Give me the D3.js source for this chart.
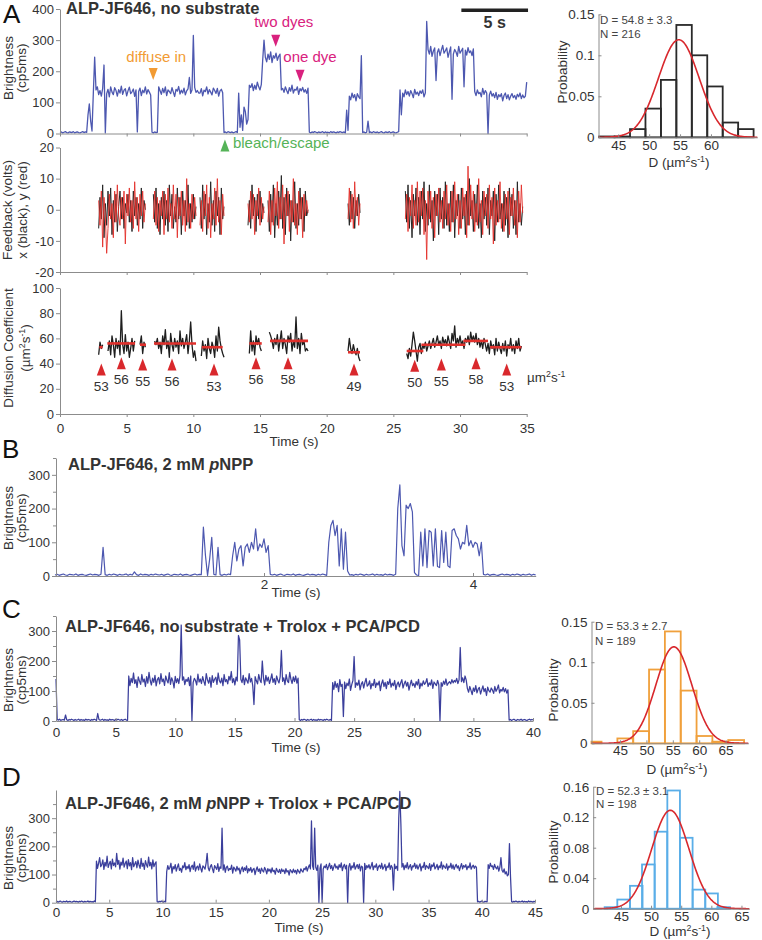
<!DOCTYPE html>
<html><head><meta charset="utf-8">
<script src="https://cdn.jsdelivr.net/npm/d3@7/dist/d3.min.js"></script>
<style>
html,body{margin:0;padding:0;background:#fff;}
svg text{font-family:"Liberation Sans",Arial,Helvetica,sans-serif;}
</style></head>
<body>
<svg id="fig" width="762" height="940"></svg>
<script>
// ================= DATA =================
// Panel A brightness (cp5ms), sampled every 0.1 s from t = 0
const aStep = 0.1;
const aBright = [
3,5,2,4,6,3,2,5,4,3,6,2,4,5,3,2,4,6,3,5,4,
60,95,40,8,130,245,140,150,125,138,120,145,220,2,
128,142,118,150,133,125,147,138,120,141,130,152,126,139,144,121,137,149,128,134,143,119,140,
5,135,146,122,139,131,150,127,141,133,124,
4,2,5,3,4,150,
138,126,145,131,150,122,140,135,128,147,
133,119,142,136,151,127,139,130,146,124,
137,143,180,129,140,315,148,132,138,130,
130,144,121,139,135,150,127,141,133,124,
146,138,129,145,120,137,142,131,
3,5,2,6,4,3,5,2,4,6,3,
130,20,60,10,85,70,30,45,155,
148,160,138,155,142,165,150,140,158,
235,300,
245,230,255,238,262,228,250,242,258,235,248,255,
140,
145,132,150,138,128,147,136,155,130,142,139,150,126,144,137,148,133,141,129,146,
4,2,5,3,6,4,2,5,3,4,6,2,5,3,4,2,6,3,5,4,2,5,3,6,4,3,5,2,
75,10,
120,108,130,115,125,105,128,118,112,
250,
3,5,2,4,40,3,5,2,6,4,3,5,2,4,6,3,2,5,4,3,6,2,4,5,3,2,4,6,
140,60,
130,118,140,125,135,120,138,128,115,142,126,133,122,137,129,140,118,131,
360,
270,255,280,248,265,275,170,260,272,250,268,283,258,266,275,245,262,278,110,255,
270,262,248,280,258,266,274,150,268,252,276,260,265,250,272,
135,122,140,128,132,118,145,126,138,130,0,124,136,120,128,115,132,110,125,118,
128,105,122,130,112,125,108,120,128,115,122,110,126,118,130,112,124,115,120,165
];
const aTicksY = [0,100,200,300,400];
const aTicksX = [0,5,10,15,20,25,30,35];

// Annotations on brightness trace
const annoText = ["diffuse in","two dyes","one dye","bleach/escape"];
const annoT    = [6.99, 16.18, 18.0, 12.37];
const annoTip  = [172, 279, 166, -19];
const annoColor= ["#f29b33","#d9217e","#d9217e","#55b358"];
const scaleBarStart = 30.1, scaleBarLen = 5;

// Feedback (volts): segments starting at fbStart, 0.1 s sampling
const fbStart = [2.9, 7.0, 10.5, 14.1, 15.6, 21.6, 25.9];
const fbX = [
[-6,4,-3,8,-9,2,-5,6,-2,7,-8,3,-4,5,-7,1,6,-3,4,-6,2,-1,5,-4,3,-7,6,-2,4,-5,2,-3,7,-6,3,0],
[5,-4,7,-6,2,-8,4,-3,6,-5,3,-7,8,-2,5,-6,1,-4,7,-3,4,-8,6,-2,3,-5,8,-6,2,-4,5,-3,1],
[4,-6,8,-3,5,-8,2,-4,9,-5,3,-7,6,-2,4,-8,7,-3,1],
[-5,3,-6,8,-2,4,-7,5,-3,6,-4,2,-1],
[3,-7,5,-4,8,-9,2,-5,6,-3,11,-6,4,-8,7,-2,5,-10,3,-4,9,-6,2,-5,7,-3,4,-7,6,-2,0],
[2,-5,6,-3,4,-6,3,-2,5,-1],
[6,-4,8,-6,3,-9,5,-2,7,-5,4,-8,6,-3,9,-7,2,-5,8,-4,3,-10,6,-2,5,-8,7,-3,4,-6,
 9,-5,2,-7,6,-4,8,-9,3,-2,5,-6,7,-3,4,-8,6,-5,10,-2,3,-7,5,-4,8,-6,2,-9,6,-3,
 4,-5,7,-8,3,-2,6,-10,5,-4,8,-3,2,-7,6,-5,4,-9,7,-2,5,-6,3,-8,9,-4,2,-5,1]
];
const fbY = [
[3,-5,6,-12,4,-2,-14,-6,5,-3,2,-9,6,-4,8,-2,-5,4,-3,6,-11,5,-2,7,-4,3,-6,9,-3,4,-7,5,-2,6,-4,2],
[-3,6,-5,4,-7,3,-2,6,-8,5,-3,7,-4,2,-6,8,-3,5,-9,4,-2,6,-5,3,-7,10,-4,2,-6,5,-3,4,-2],
[-5,3,-7,6,-2,8,-6,4,-9,2,-3,7,-5,10,-4,3,-8,5,-2],
[2,-4,6,-3,5,-8,3,-2,7,-5,4,-3,1],
[-4,6,-8,3,-5,7,-2,9,-6,4,-3,8,-11,5,-2,6,-7,3,-4,10,-5,2,-8,6,-3,4,-9,5,-2,3,-1],
[-3,7,-4,5,-6,9,-2,4,-5,2],
[-3,5,-7,4,-2,8,-6,3,-5,9,-4,6,-2,7,-8,3,-16,6,-3,6,-6,4,-9,5,-2,7,-4,3,-6,6,
 -3,8,-5,2,-7,6,-4,9,-3,5,-8,3,-6,7,-2,5,-9,14,-5,8,-3,6,-7,2,-5,10,-4,3,-8,6,
 -2,5,-6,8,-3,4,-11,7,-5,3,-4,9,-6,2,-7,5,-3,6,-8,4,-2,7,-5,3,-9,6,-4,8,-1]
];
const fbTicksY = [-20,-10,0,10,20];

// Diffusion coefficient traces (µm²/s), 0.1 s sampling
const dStart = [2.9, 3.6, 6.0, 7.1, 10.6, 14.2, 15.7, 21.6, 26.0];
const dVals = [
[47,57,52,55],
[50,58,47,62,55,45,60,52,58,47,82,55,48,63,50,57,45,52,60,50,58],
[55,62,48,57,53],
[58,55,60,52,57,48,62,55,67,52,58,45,64,55,50,60,53,58,48,66,54,60,52,57,63,48,58,73,55,45,50,42],
[46,58,50,55,44,60,52,48,57,53,45,62,50,69,58,52,48,45],
[48,66,50,58,47,62,55,60,53,50],
[65,62,58,52,60,55,63,50,58,66,52,60,55,48,62,57,64,50,58,53,77,52,60,48,64,55,58,50,52,50],
[50,60,52,48,55,50,47,52,45,42],
[48,44,52,46,55,65,58,50,42,53,56,48,55,52,57,50,54,58,52,56,
 60,53,57,62,55,58,52,61,56,59,54,62,57,52,64,58,70,53,60,56,
 62,55,58,52,60,57,62,55,65,58,62,57,64,55,60,53,58,52,60,55,
 50,56,48,58,52,55,47,60,50,57,52,48,56,50,58,46,55,52,60,50,
 55,48,58,52,60,50,54]
];
const dMeanStart = [2.95,3.55,6.0,7.05,10.63,14.2,15.75,21.6,26.0,27.1,30.25,32.25];
const dMeanEnd   = [3.2,5.63,6.45,10.2,12.2,15.13,18.6,22.5,27.25,30.4,32.1,34.6];
const dMeanValue = [53,56,55,56,53,56,58,49,50,55,58,53];
const dMarkT     = [3.1,4.6,6.2,8.4,11.55,14.7,17.1,22.05,26.6,28.6,31.2,33.5];
const dMarkLabel = ["53","56","55","56","53","56","58","49","50","55","58","53"];
const dMarkTip   = [40,45,44,44,40,45,45,40,43,44,45,40];
const dTicksY = [0,20,40,60,80,100];

// Panel B brightness, 0.02 s sampling
const bStep = 0.02;
const bBright = [
3,5,2,4,6,3,2,5,4,3,6,2,4,5,3,2,4,6,3,5,4,2,5,
85,
4,2,5,3,6,4,2,5,3,4,6,2,5,3,
12,
4,2,6,3,5,4,2,5,3,6,4,3,5,2,4,6,3,2,5,4,3,6,2,4,5,3,2,4,6,3,5,4,
145,60,2,50,115,5,3,85,4,2,5,3,6,4,
60,100,45,80,90,30,85,95,70,100,80,140,75,95,85,110,70,90,5,
3,5,2,4,6,3,2,5,4,3,6,2,4,5,3,2,4,6,3,5,4,2,5,3,6,4,2,
100,150,165,120,150,30,140,20,130,15,3,
4,2,5,3,6,4,2,5,3,4,6,2,5,3,4,2,6,3,5,4,2,5,
200,270,90,60,210,200,215,190,10,3,2,
130,30,140,25,135,130,30,140,28,25,135,40,130,30,25,135,140,120,110,
80,100,95,150,90,105,85,100,95,60,100,
5,3,6,2,4,5,3,2,4,6,3,5,4,2,5,3,6,4,2,5,3,4,6,2,5,3
];
const bTicksY = [0,100,200,300];
const bMinorY = [50,150,250,350];
const bTicksX = [2,4];

// Panel C brightness, 0.1 s sampling
const cStep = 0.1;
const cBright = [
140,
5,3,6,2,4,5,3,20,4,2, 5,3,6,4,2,5,3,4,6,2, 5,3,4,2,6,3,5,4,2,5,
3,6,4,2,25,5,3,4,6,2, 5,3,4,2,6,3,5,4,2,5, 3,6,4,3,5,2,4,6,3,2,
150,118,142,128,160,125,138,112,147,133,
122,155,130,140,115,148,126,162,135,120,
143,129,152,117,138,145,124,158,131,140,
119,150,136,127,161,122,144,133,110,149,
128,141,125,152,320,136,147,121,139,132,
145,118,150,0,128,142,135,120,156,130,
140,125,148,132,119,158,137,126,145,113,
151,129,139,146,122,160,134,127,143,118,
155,131,138,124,149,136,165,128,141,120,
146,133,285,270,139,128,152,121,144,135,
126,158,130,142,117,55,148,134,124,155,
137,128,200,143,120,152,133,146,125,139,
157,129,141,122,150,136,127,148,235,132,
144,121,155,134,128,162,139,125,147,131,
150,126,143,
4,2,5,3,6,4,2,5,3,4,6,2,5,3,4,2,6,3,5,4,2,5,3,6,4,3,5,2,
128,105,132,112,125,98,138,115,122,15,
130,108,126,118,140,102,121,135,215,112,
127,119,136,104,123,131,110,128,142,116,
121,134,107,125,118,139,112,127,120,133,
101,124,137,115,129,108,131,122,140,113,
126,118,135,105,122,130,114,127,138,110,
124,133,116,129,103,121,136,118,125,112,
131,120,139,108,126,117,134,122,128,141,
115,127,120,137,109,130,124,118,135,121,
0,128,116,133,122,140,119,126,131,124,
138,127,135,130,142,125,137,245,131,144,
128,150,136,
108,96,115,102,88,110,99,118,94,106,
112,90,104,117,98,108,85,113,101,96,
110,103,92,115,99,107,120,94,105,100,
112,97,108,93,104,
3,5,2,4,6,3,2,5,4,3,6,2,4,5,3,2,4,6,3,5,4
];
const cTicksY = [0,100,200,300];
const cMinorY = [50,150,250,350];
const cTicksX = [0,5,10,15,20,25,30,35,40];

// Panel D brightness, 0.1 s sampling
const dStep = 0.1;
const dBright = [
3,5,2,4,6,3,2,5,4,3,6,2,4,5,3,2,4,6,3,5,4,2,5,3,6,4,2,5,3,4,6,2,5,3,4,2,6,3,
148,122,140,160,128,135,152,118,143,130,
165,125,138,147,120,155,132,141,127,175,
136,150,119,144,133,158,126,139,148,121,
153,131,142,117,160,128,137,146,124,151,
134,122,157,129,140,118,149,135,126,162,
131,143,120,152,128,139,145,
4,2,5,3,6,4,2,5,3,
110,132,118,125,140,105,128,120,135,112,
126,138,115,122,108,131,124,142,117,129,
121,135,110,127,133,118,145,112,125,130,
116,138,122,109,131,126,119,140,175,124,
113,128,135,120,107,132,125,118,139,111,
127,122,265,116,134,108,125,130,114,121,
118,133,105,126,120,112,129,116,123,102,
119,127,110,124,115,131,106,121,113,125,
108,118,122,100,116,127,111,120,104,123,
114,109,125,117,102,121,112,119,106,124,
110,115,101,122,113,108,118,104,120,111,
116,103,121,109,114,98,117,112,106,119,
108,115,102,118,111,105,120,113,109,122,
117,128,112,125,134,120,290,131,118,265,
126,115,133,0,122,138,0,119,130,124,
136,117,128,140,121,132,115,127,138,123,
130,118,135,125,141,114,129,136,120,133,
0,127,139,116,131,124,142,119,128,135,
121,137,113,130,126,0,140,118,132,124,
135,120,129,143,117,131,126,138,115,128,
133,122,140,119,127,136,114,130,125,141,
118,132,124,45,137,121,129,115,300,395,
280,126,139,117,133,124,142,120,128,135,
116,131,127,140,122,134,119,129,138,113,
130,125,143,118,132,127,121,139,115,134,
128,141,120,126,136,117,131,124,145,119,
133,127,122,138,116,130,125,140,121,134,
118,129,136,123,131,114,127,139,120,132,
126,135,117,130,124,141,119,128,133,122,
130,125,
3,5,2,4,6,3,2,5,4,3,
135,122,140,128,131,118,136,125,120,130,112,126,160,115,108,120,102,110,95,100,210,92,
4,2,5,3,6,4,2,5,3,4,6,2,5,3,4,2,6,3,5,4,2,5,3
];
const dTicksYB = [0,100,200,300];
const dMinorYB = [50,150,250,350];
const dTicksXB = [0,5,10,15,20,25,30,35,40,45];

// Histograms: bin lower edges, bin width, probabilities; Gaussian fit params
const hA_lo = [41.9,44.4,46.9,49.4,51.9,54.4,56.9,59.4,61.9,64.4];
const hA_w = 2.5;
const hA_p = [0.001,0.001,0.010,0.035,0.070,0.137,0.100,0.062,0.018,0.010];
const hA_fit = [54.8, 3.3, 0.119]; // mean, sigma, peak
const hA_ticksX = [45,50,55,60];
const hA_ticksY = [0,0.05,0.1,0.15];

const hC_lo = [38.5,41.5,44.5,47.5,50.5,53.5,56.5,59.5,62.5,65.5];
const hC_w = 3;
const hC_p = [0.002,0,0.006,0.015,0.091,0.138,0.065,0.009,0.002,0.004];
const hC_fit = [55.2, 3.4, 0.119];
const hC_ticksX = [45,50,55,60,65];
const hC_ticksY = [0,0.05,0.1,0.15];

const hD_lo = [42.3,44.4,46.5,48.5,50.6,52.7,54.8,56.9,59.0,61.0];
const hD_w = 2.09;
const hD_p = [0.002,0.012,0.030,0.058,0.101,0.155,0.093,0.025,0.020,0.002];
const hD_fit = [53.2, 3.1, 0.129];
const hD_ticksX = [45,50,55,60,65];
const hD_ticksY = [0,0.04,0.08,0.12,0.16];

// ================= DRAWING =================
const svg = d3.select("#fig");
const TXT = "#333", AXC = "#8c8c8c";
const FONT = '"Liberation Sans", Arial, Helvetica, sans-serif';

function text(x, y, str, o = {}) {
  const t = svg.append("text").attr("x", x).attr("y", y).text(str)
    .attr("font-size", o.size || 13).attr("fill", o.fill || TXT)
    .attr("text-anchor", o.anchor || "start");
  if (o.weight) t.attr("font-weight", o.weight);
  return t;
}
function rotText(x, y, str, size) {
  return svg.append("text").attr("transform", `translate(${x},${y}) rotate(-90)`)
    .attr("text-anchor", "middle").attr("font-size", size || 13.5).attr("fill", TXT).text(str);
}
function unitTspans(t, prefix, suffix) {
  t.text(prefix);
  t.append("tspan").text("2").attr("font-size", "0.65em").attr("dy", -5);
  t.append("tspan").text("s").attr("dy", 5);
  t.append("tspan").text("-1").attr("font-size", "0.65em").attr("dy", -5);
  if (suffix) t.append("tspan").text(suffix).attr("dy", 5);
}
function styleAxis(g, size) {
  g.select(".domain").attr("stroke", AXC).attr("stroke-width", 1);
  g.selectAll(".tick line").attr("stroke", AXC);
  g.selectAll(".tick text").attr("fill", TXT).attr("font-size", size || 13).attr("font-family", FONT);
}
function leftAxis(scale, x, ticks, fmt, minor, size, tick) {
  if (minor) {
    const gm = svg.append("g").attr("transform", `translate(${x},0)`)
      .call(d3.axisLeft(scale).tickValues(minor).tickFormat("").tickSize(3).tickSizeOuter(0));
    styleAxis(gm);
    gm.select(".domain").remove();
  }
  const g = svg.append("g").attr("transform", `translate(${x},0)`)
    .call(d3.axisLeft(scale).tickValues(ticks).tickFormat(fmt || (d => d))
      .tickSize(tick === undefined ? 4 : tick).tickPadding(tick < 0 ? 4 : 2).tickSizeOuter(0));
  styleAxis(g, size);
  return g;
}
function bottomAxis(scale, y, ticks, labels, labelY, size, tick) {
  const ax = d3.axisBottom(scale).tickValues(ticks).tickSize(tick === undefined ? 3 : tick)
    .tickSizeOuter(0).tickFormat(labels ? (d => d) : "");
  const g = svg.append("g").attr("transform", `translate(0,${y})`).call(ax);
  styleAxis(g, size);
  if (labels) g.selectAll(".tick text").attr("y", labelY).attr("dy", 0);
  return g;
}
function trace(xs, ys, vals, t0, step, color, w, op) {
  const line = d3.line().x((d, i) => xs(t0 + i * step)).y(d => ys(d));
  svg.append("path").datum(vals).attr("d", line).attr("fill", "none")
    .attr("stroke", color).attr("stroke-width", w).attr("stroke-opacity", op || 1)
    .attr("stroke-linejoin", "round");
}

// ---------- Panel A: brightness ----------
const xA = d3.scaleLinear([0, 35], [60, 526.7]);
const yA = d3.scaleLinear([0, 400], [133.5, 9]);
text(3, 23, "A", {size: 26, fill: "#111"});
trace(xA, yA, aBright, 0, aStep, "#4d58b0", 1.3);
leftAxis(yA, 60, aTicksY);
bottomAxis(xA, 133.5, aTicksX, false);
rotText(13, 68, "Brightness");
rotText(26, 68, "(cp5ms)");
text(66, 14, "ALP-JF646, no substrate", {size: 16.5, weight: "bold"});
// scale bar
svg.append("rect").attr("x", xA(scaleBarStart)).attr("y", 8.5)
  .attr("width", xA(scaleBarStart + scaleBarLen) - xA(scaleBarStart)).attr("height", 3.5).attr("fill", "#222");
text((xA(scaleBarStart) + xA(scaleBarStart + scaleBarLen)) / 2, 28, "5 s", {size: 16, weight: "bold", anchor: "middle"});
// annotations
annoT.forEach((t, i) => {
  const x = xA(t), y = yA(annoTip[i]);
  const up = annoTip[i] < 0;
  const h = 12, hw = 4.5;
  const pts = up ? [[x, y], [x - hw, y + h], [x + hw, y + h]] : [[x, y], [x - hw, y - h], [x + hw, y - h]];
  svg.append("polygon").attr("points", pts.map(p => p.join(",")).join(" ")).attr("fill", annoColor[i]);
});
text(xA(annoT[0]) + 3, 62, annoText[0], {size: 15, fill: annoColor[0], anchor: "middle"});
text(xA(annoT[1]) + 8, 27, annoText[1], {size: 15, fill: annoColor[1], anchor: "middle"});
text(xA(annoT[2]) + 10, 62, annoText[2], {size: 15, fill: annoColor[2], anchor: "middle"});
text(xA(annoT[3]) + 8, 148, annoText[3], {size: 15, fill: annoColor[3]});

// ---------- Panel A: feedback ----------
const yF = d3.scaleLinear([-20, 20], [272, 147.5]);
fbStart.forEach((s, i) => trace(xA, yF, fbX[i], s, 0.1, "#262626", 1.0));
fbStart.forEach((s, i) => trace(xA, yF, fbY[i], s, 0.1, "#e3302a", 1.0, 0.9));
leftAxis(yF, 60, fbTicksY);
bottomAxis(xA, 272, aTicksX, false);
rotText(12, 210, "Feedback (volts)");
rotText(27, 210, "x (black), y (red)");

// ---------- Panel A: diffusion ----------
const yD = d3.scaleLinear([0, 100], [414, 288]);
dStart.forEach((s, i) => trace(xA, yD, dVals[i], s, 0.1, "#1e1e1e", 1.3));
dMeanStart.forEach((s, i) => {
  svg.append("line").attr("x1", xA(s)).attr("x2", xA(dMeanEnd[i]))
    .attr("y1", yD(dMeanValue[i])).attr("y2", yD(dMeanValue[i]))
    .attr("stroke", "#e0302c").attr("stroke-width", 2.6);
});
dMarkT.forEach((t, i) => {
  const x = xA(t), y = yD(dMarkTip[i]);
  svg.append("polygon").attr("points", `${x},${y} ${x - 4.5},${y + 12} ${x + 4.5},${y + 12}`).attr("fill", "#d9282c");
  text(x, y + 27, dMarkLabel[i], {size: 13.5, anchor: "middle"});
});
unitTspans(text(527, 382, "", {size: 13.5}), "µm", "");
leftAxis(yD, 60, dTicksY);
bottomAxis(xA, 414, aTicksX, true, 19, 13.5);
rotText(12.5, 348, "Diffusion Coefficient");
unitTspans(svg.append("text").attr("transform", "translate(29.5,348) rotate(-90)")
  .attr("text-anchor", "middle").attr("font-size", 13.5).attr("fill", TXT), "(µm", ")");
text(294, 446, "Time (s)", {size: 13.5, anchor: "middle"});

// ---------- Histogram helper ----------
function histogram(xs, ys, lo, w, p, color, fit, ticksX, ticksY, fmtY, xLabY, unitX, unitY, probX, probY, stat1, stat2, statX, statY1, statY2) {
  const d0 = xs.domain()[0];
  lo.forEach((l, i) => {
    if (p[i] <= 0) return;
    const a = Math.max(l, d0), b = l + w;
    svg.append("rect").attr("x", xs(a)).attr("width", xs(b) - xs(a))
      .attr("y", ys(p[i])).attr("height", ys(0) - ys(p[i]))
      .attr("fill", "none").attr("stroke", color).attr("stroke-width", 1.8);
  });
  const gx = d3.range(xs.domain()[0], xs.domain()[1] + 0.05, 0.1);
  const gl = d3.line().x(d => xs(d)).y(d => ys(fit[2] * Math.exp(-((d - fit[0]) ** 2) / (2 * fit[1] ** 2))));
  svg.append("path").datum(gx).attr("d", gl).attr("fill", "none").attr("stroke", "#d8282d").attr("stroke-width", 1.6);
  leftAxis(ys, xs(d0), ticksY, fmtY, null, 13.5, -3);
  bottomAxis(xs, ys(0), ticksX, true, xLabY, 13.5, -3);
  unitTspans(text(unitX, unitY, "", {size: 13.5, anchor: "middle"}), "D (µm", ")");
  rotText(probX, probY, "Probability");
  text(statX, statY1, stat1, {size: 11.5, fill: "#444"});
  text(statX, statY2, stat2, {size: 11.5, fill: "#444"});
}
const fmtP = d => d === 0 ? "0" : String(d);

// Histogram A
histogram(d3.scaleLinear([41.8, 67.5], [598.5, 757.3]), d3.scaleLinear([0, 0.15], [137.3, 14.3]),
  hA_lo, hA_w, hA_p, "#2a2a2a", hA_fit, hA_ticksX, hA_ticksY, fmtP, 12.5, 679, 167, 567, 72,
  "D = 54.8 ± 3.3", "N = 216", 600, 24, 37.5);

// ---------- Panel B ----------
const xB = d3.scaleLinear([0, 4.6], [55, 535.7]);
const yB = d3.scaleLinear([0, 350], [576, 458]);
text(2, 458, "B", {size: 26, fill: "#111"});
trace(xB, yB, bBright, 0, bStep, "#4d58b0", 1.2);
leftAxis(yB, 56, bTicksY, null, bMinorY);
bottomAxis(xB, 576, bTicksX, true, 13, 13.5, -3);
rotText(13, 518, "Brightness");
rotText(26, 518, "(cp5ms)");
const tB = text(68, 470, "ALP-JF646, 2 mM ", {size: 16.5, weight: "bold"});
tB.append("tspan").text("p").attr("font-style", "italic");
tB.append("tspan").text("NPP");
text(296, 597, "Time (s)", {size: 13.5, anchor: "middle"});

// ---------- Panel C ----------
const xC = d3.scaleLinear([0, 40], [56, 533]);
const yC = d3.scaleLinear([0, 350], [721, 616]);
text(2, 618, "C", {size: 26, fill: "#111"});
trace(xC, yC, cBright, 0, cStep, "#3b3f9c", 1.25);
leftAxis(yC, 56, cTicksY, null, cMinorY);
bottomAxis(xC, 721, cTicksX, true, 16, 13.5, -3);
rotText(13, 680, "Brightness");
rotText(26, 680, "(cp5ms)");
text(65, 632, "ALP-JF646, no substrate + Trolox + PCA/PCD", {size: 16.5, weight: "bold"});
text(296, 752, "Time (s)", {size: 13.5, anchor: "middle"});

histogram(d3.scaleLinear([39.6, 69.3], [591.5, 748.3]), d3.scaleLinear([0, 0.15], [743.3, 621.7]),
  hC_lo, hC_w, hC_p, "#f0a03c", hC_fit, hC_ticksX, hC_ticksY, fmtP, 12, 677, 774, 558, 690,
  "D = 53.3 ± 2.7", "N = 189", 595, 630, 645);

// ---------- Panel D ----------
const xDb = d3.scaleLinear([0, 45], [56, 535]);
const yDb = d3.scaleLinear([0, 400], [902.7, 790]);
text(2, 786, "D", {size: 26, fill: "#111"});
trace(xDb, yDb, dBright, 0, dStep, "#3b3f9c", 1.25);
leftAxis(yDb, 56, dTicksYB, null, dMinorYB);
bottomAxis(xDb, 902.7, dTicksXB, true, 14, 13.5, -3);
rotText(13, 858, "Brightness");
rotText(26, 858, "(cp5ms)");
const tD = text(65, 809, "ALP-JF646, 2 mM ", {size: 16.5, weight: "bold"});
tD.append("tspan").text("p").attr("font-style", "italic");
tD.append("tspan").text("NPP + Trolox + PCA/PCD");
text(299, 932, "Time (s)", {size: 13.5, anchor: "middle"});

histogram(d3.scaleLinear([40.4, 66.3], [593.2, 749.3]), d3.scaleLinear([0, 0.16], [908.7, 786.7]),
  hD_lo, hD_w, hD_p, "#5aaee8", hD_fit, hD_ticksX, hD_ticksY, fmtP, 12, 680, 936, 558, 852,
  "D = 52.3 ± 3.1", "N = 198", 596, 795, 808);
</script>
</body></html>
